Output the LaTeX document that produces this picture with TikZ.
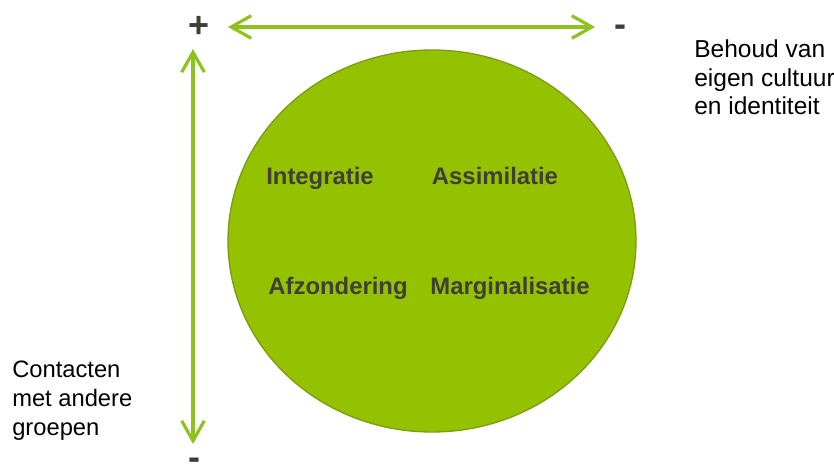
\documentclass[tikz,border=0pt]{standalone}
\usepackage{fontspec}
\setmainfont{Liberation Sans}
\usetikzlibrary{arrows.meta,shapes.geometric}
\definecolor{arrowgreen}{HTML}{8DC21F}
\definecolor{fillgreen}{HTML}{94C200}
\definecolor{edgegreen}{HTML}{7A9E10}
\definecolor{darktext}{HTML}{3F3F36}
\tikzset{
  axis/.style={draw=arrowgreen, line width=2.4pt, {Straight Barb[length=15pt,width=17pt,line width=2.4pt]}-{Straight Barb[length=15pt,width=17pt,line width=2.4pt]}},
  label/.style={font=\fontsize{17.9pt}{21pt}\selectfont\bfseries, text=darktext, inner sep=0pt, anchor=base},
  sign/.style={font=\fontsize{27pt}{28pt}\selectfont\bfseries, text=darktext, inner sep=0pt},
  side/.style={text=black, align=left, inner sep=0pt, anchor=base west}
}
\begin{document}
\begin{tikzpicture}[x=0.75pt,y=-0.75pt]
\useasboundingbox (0,0) rectangle (834,473);
\node[ellipse, draw=edgegreen, line width=1pt, fill=fillgreen, minimum width=408*0.75pt, minimum height=382*0.75pt, inner sep=0pt] (circ) at (432,241) {};
\node[label] (int) at (320,185) {Integratie};
\node[label] (ass) at (495,185) {Assimilatie};
\node[label] (afz) at (338,295) {Afzondering};
\node[label] (mar) at (510,295) {Marginalisatie};
\coordinate (hl) at (228,27);
\coordinate (hr) at (595,27);
\coordinate (vt) at (193,49);
\coordinate (vb) at (193,444);
\draw[axis] (hl) -- (hr);
\draw[axis] (vt) -- (vb);
\node[sign] (plus) at (199,27) {+};
\node[sign] (minr) at (620,31) {-};
\node[sign] (minb) at (194,464) {-};
\node[side, font=\fontsize{18.4pt}{21.6pt}\selectfont] (behoud) at (694,115) {Behoud van\\eigen cultuur\\en identiteit};
\node[side, font=\fontsize{17.8pt}{21.4pt}\selectfont] (contact) at (12,435) {Contacten\\met andere\\groepen};
\end{tikzpicture}
\end{document}
